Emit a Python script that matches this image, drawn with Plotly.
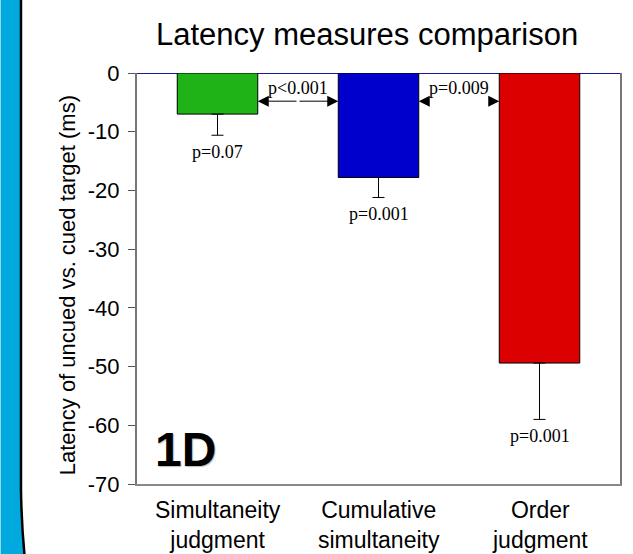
import plotly.graph_objects as go

# ---- data ----
categories = ["Simultaneity judgment", "Cumulative simultaneity", "Order judgment"]
cat_lines = [["Simultaneity", "judgment"], ["Cumulative", "simultaneity"], ["Order", "judgment"]]
means = [-7.0, -17.8, -49.4]
errors = [3.6, 3.4, 9.6]
bar_colors = ["#1fb318", "#0000cc", "#dd0000"]
p_below = ["p=0.07", "p=0.001", "p=0.001"]
p_between = ["p<0.001", "p=0.009"]
arrow_level = -4.8
tick_vals = [0, -10, -20, -30, -40, -50, -60, -70]
tick_text = ["0", "-10", "-20", "-30", "-40", "-50", "-60", "-70"]

W, H = 633, 554
ML, MR, MT, MB = 137, 11, 73, 70
PW, PH = W - ML - MR, H - MT - MB


def px(x):
    return (x - ML) / PW


def py(y):
    return (H - MB - y) / PH


fig = go.Figure()
fig.add_trace(go.Bar(
    x=list(range(len(categories))), y=means,
    marker=dict(color=bar_colors, line=dict(color="black", width=1)),
    width=0.5,
    error_y=dict(type="data", symmetric=False, array=[0] * len(errors),
                 arrayminus=errors, color="black", thickness=1, width=6),
    hoverinfo="skip", showlegend=False,
))

annotations = []
serif = dict(family="Liberation Serif, Times New Roman, serif", size=18, color="black")
# p-values beneath bars
for i, (m, e, t) in enumerate(zip(means, errors, p_below)):
    annotations.append(dict(x=i, y=m - e, xref="x", yref="y", text=t, showarrow=False,
                            yanchor="top", yshift=-5, font=serif))

# comparison arrows
half = 0.25
mid01 = 0.5
for tip in (0 + half, 1 - half):
    annotations.append(dict(x=tip, y=arrow_level, ax=mid01, ay=arrow_level, xref="x", yref="y",
                            axref="x", ayref="y", text="", showarrow=True, arrowhead=2,
                            arrowsize=2.2, arrowwidth=1, arrowcolor="black", standoff=0))
for tip, dx in ((1 + half, 11), (2 - half, -11)):
    annotations.append(dict(x=tip, y=arrow_level, ax=dx, ay=0, xref="x", yref="y",
                            text="", showarrow=True, arrowhead=2,
                            arrowsize=2.2, arrowwidth=1, arrowcolor="black", standoff=0))
for k, t in enumerate(p_between):
    annotations.append(dict(x=k + 0.5, y=arrow_level, xref="x", yref="y", text=t, showarrow=False,
                            yanchor="bottom", yshift=1, font=serif))

# category labels (two lines in one text)
sans = "Liberation Sans, Arial, sans-serif"
for i, lines in enumerate(cat_lines):
    annotations.append(dict(x=i, y=py(525), xref="x", yref="paper", text="<br>".join(lines),
                            showarrow=False, yanchor="middle",
                            font=dict(family=sans, size=23, color="black")))

# title
annotations.append(dict(x=px(368), y=py(34), xref="paper", yref="paper",
                        text="Latency measures comparison", showarrow=False, yanchor="middle",
                        font=dict(family=sans, size=31, color="black")))
# y title
annotations.append(dict(x=px(67), y=py(285), xref="paper", yref="paper",
                        text="Latency of uncued vs. cued target (ms)", showarrow=False,
                        textangle=-90, xanchor="center", yanchor="middle",
                        font=dict(family=sans, size=22, color="black")))
# panel label
annotations.append(dict(x=px(186), y=py(449), xref="paper", yref="paper", text="<b>1D</b>",
                        showarrow=False, xanchor="center", yanchor="middle",
                        font=dict(family=sans, size=48, color="black",
                                  shadow="1px 1px 1px #bbbbbb")))

# left decorative strip
strip_path = (f"M {px(0)},{py(-5)} L {px(20)},{py(-5)} L {px(20)},{py(490)} "
              f"Q {px(20.5)},{py(525)} {px(24)},{py(560)} L {px(0)},{py(560)} Z")
edge_path = f"M {px(20.5)},{py(-5)} L {px(20.5)},{py(490)} Q {px(21)},{py(525)} {px(24.5)},{py(560)}"
shapes = [
    dict(type="path", xref="paper", yref="paper", path=strip_path,
         fillcolor="#00aadf", line=dict(width=0), layer="below"),
    dict(type="path", xref="paper", yref="paper", path=edge_path,
         line=dict(color="black", width=2.5), layer="below"),
]

fig.update_layout(
    width=W, height=H, autosize=False,
    margin=dict(l=ML, r=MR, t=MT, b=MB),
    paper_bgcolor="white", plot_bgcolor="white",
    showlegend=False,
    annotations=annotations, shapes=shapes,
    bargap=0.5,
)
fig.update_xaxes(range=[-0.5, 2.5], showticklabels=False, ticks="", showgrid=False,
                 zeroline=False, showline=True, linecolor="#888888", linewidth=2, mirror=False)
fig.update_yaxes(range=[-70, 0], tickvals=tick_vals, ticktext=tick_text, ticks="outside",
                 ticklen=7, tickcolor="#555555", tickwidth=1, showgrid=False,
                 showline=True, linecolor="#777777", linewidth=2, mirror=True,
                 zeroline=True, zerolinecolor="#1a1aa0", zerolinewidth=1,
                 ticklabelstandoff=4,
                 tickfont=dict(family=sans, size=22, color="black"))

fig.write_html("out.html")
